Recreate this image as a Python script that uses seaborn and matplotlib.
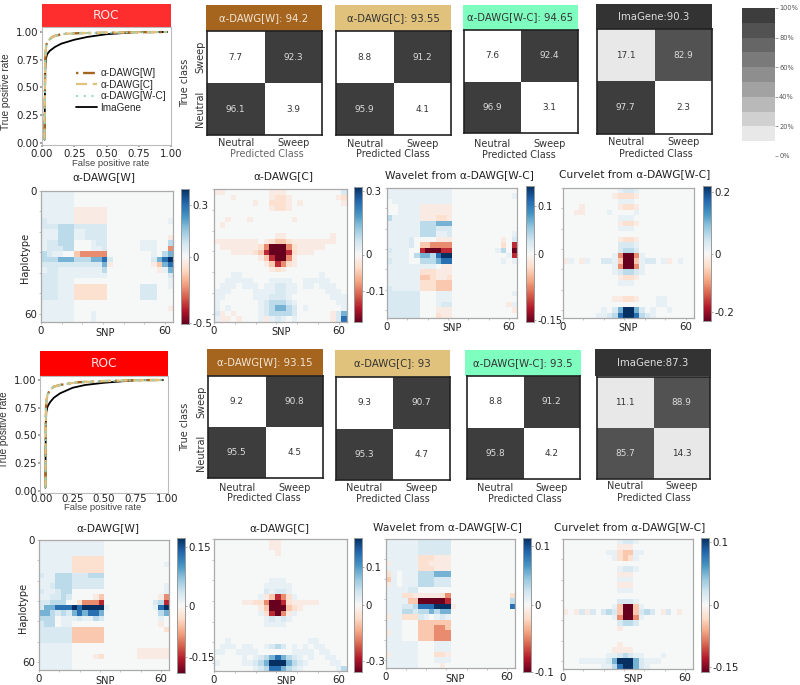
import numpy as np
import matplotlib
matplotlib.use("Agg")
import matplotlib.pyplot as plt
from matplotlib.colors import ListedColormap, TwoSlopeNorm
import seaborn as sns

# ---------- ROC data ----------
FPR_DAWG_A = [0.02, 0.022, 0.025, 0.03, 0.035, 0.05, 0.08, 0.10, 0.15, 0.20, 0.30, 0.50, 0.75, 0.97]
TPR_DAWG_A = [0.03, 0.40, 0.75, 0.85, 0.89, 0.925, 0.955, 0.965, 0.98, 0.985, 0.99, 0.993, 0.998, 1.0]
FPR_IMG_A = [0.02, 0.022, 0.025, 0.03, 0.04, 0.06, 0.10, 0.15, 0.25, 0.35, 0.50, 0.75, 0.97]
TPR_IMG_A = [0.03, 0.35, 0.65, 0.76, 0.80, 0.83, 0.865, 0.895, 0.93, 0.955, 0.98, 1.0, 1.0]
FPR_DAWG_B = [0.033, 0.035, 0.037, 0.04, 0.05, 0.07, 0.10, 0.15, 0.20, 0.30, 0.50, 0.75, 0.97]
TPR_DAWG_B = [0.03, 0.45, 0.72, 0.80, 0.87, 0.91, 0.94, 0.955, 0.965, 0.98, 0.99, 0.998, 1.0]
FPR_IMG_B = [0.033, 0.035, 0.037, 0.04, 0.05, 0.07, 0.10, 0.15, 0.25, 0.35, 0.50, 0.75, 0.97]
TPR_IMG_B = [0.03, 0.40, 0.62, 0.71, 0.76, 0.80, 0.84, 0.88, 0.93, 0.955, 0.975, 0.998, 1.0]
ROC_SERIES = ["α-DAWG[W]", "α-DAWG[C]", "α-DAWG[W-C]", "ImaGene"]

# ---------- confusion matrices ----------
CM_NAMES_A = ["α-DAWG[W]: 94.2", "α-DAWG[C]: 93.55", "α-DAWG[W-C]: 94.65", "ImaGene:90.3"]
CM_NAMES_B = ["α-DAWG[W]: 93.15", "α-DAWG[C]: 93", "α-DAWG[W-C]: 93.5", "ImaGene:87.3"]
CM_A = [[[7.7, 92.3], [96.1, 3.9]], [[8.8, 91.2], [95.9, 4.1]],
        [[7.6, 92.4], [96.9, 3.1]], [[17.1, 82.9], [97.7, 2.3]]]
CM_B = [[[9.2, 90.8], [95.5, 4.5]], [[9.3, 90.7], [95.3, 4.7]],
        [[8.8, 91.2], [95.8, 4.2]], [[11.1, 88.9], [85.7, 14.3]]]
PCT_LEVELS = [95, 85, 75, 65, 55, 45, 35, 25, 15, 5]
PCT_LABELS = ["100%", "80%", "60%", "40%", "20%", "0%"]
GREYS = ["#ffffff", "#e8e8e8", "#d0d0d0", "#b9b9b9", "#a2a2a2", "#8e8e8e", "#7a7a7a", "#666666", "#525252", "#3d3d3d"]

# ---------- saliency maps: 24 x 24 read-off cells ----------
# '.' = zero, a-f = blue rising to the colour bar top, A-F = red rising to its bottom
H1 = ["aaaaaa ...... ...... ......", "aaaaaa ...... ...... ......", "aaaaaa ...... ...... ......",
      "aaaaaa AAAAAA ...... ......", "aaaaaa AAAAAA ...... ......", "baaaaa AAAAAA ...... .....a",
      "bbbccc bbbbbb ...... ......", "aaaccc aabbbb ...... ......", "aaaccc aabbbb ...... .....A",
      "abbccc ...abb ...... aaa..c", "abbbcc ...aab ...... aaa..D", "cbaa.. CDDDDD ...... ..a.cd",
      "cccddd cccdde b..... ..bdef", "bbbbbb bbbbbd A..... ..ACde", "abbaaa aaaaac ...... ...Aad",
      "bbbaaa aaaaaa ...... .....b", "bbbaaa ...... ...... .....a", "bbbaaa BBBBBB ...... bbb..a",
      "bbbaaa BBBBBB ...... bbb...", "bbbaaa BBBBBB ...... bbb...", "aaaaaa ...... ...... ......",
      "aaaaaa ...... ...... .....A", "aaaaaa ...a.. ...... ......", "aaaaaa ...a.. ...... ......"]
H2 = ["AA.... ....AA A..... .....b", "...A.. ....AB BA.... ....AB", "...... .A..BB BA.A.. .....A",
      "...... ....AB BA.... ......", "...... ...... ...... ......", "..A... A..... ..A... ......",
      ".A.... ...... ...... ......", "...... ...... ...... ......", "...... .....A A..... ...A..",
      "AAAAAA AA.ABC CBAAAA AAAA..", ".AAAAA AABDFF FDBAAA AA....", "...AAA ABCEFF FEBAAA ......",
      "...... ..ACEF FDA... ......", "...... ...ACE DBA... ......", "...... ....AB A..... ......",
      "...aa. ...... ...... .a....", "..aaaa a...aa aa..aa aaa...", ".aaa.a aa.aab baa.aa .aaa..",
      "aaa... .aaaab baa... ..aaa.", "aa.... .aaabb ba.... ...aaa", "a..... ..abcc cba... ....aa",
      "a.a... ..abcd dcb.a. .....a", "bA.A.. ..abcc ccb... ...Abd", "aAA.A. ..aAab a.a... ...Abe"]
H3 = ["aaaaaa aaaaaa ...... ......", "aaaaaa aaaaaa ...... .....a", ".aaaaa aaaaaa ...... ......",
      "..aaaa AAAAAA ...... ......", "..aaaa AAAAAA ...... ......", "caaaaa AAABBA ...... ......",
      "aaaaaa cccddd ...... ......", "aaaaaa cccbbb ...... ......", "aaaaaa cccaab ...... .....a",
      "aaaab. ...AAA ...... ...A.b", "aaaab. CCDDDD ...... ...B.E", "baaa.. EFFFEE ...... ..ac.F",
      "aaaa.c ddceff ...... ....aE", "baaa.. cccdee ...... ...a.a", "aaaaaa aaa.AA ...... ......",
      "aaaaaa BBBAAA ...... ......", "aaaaaa CCBAAB ...... ......", "aaaaaa BBBCCC ...... ......",
      "baaaaa BBBCCC ...... ......", "bbbbbb ...aaa ...... .....a", "bbbbbb ...aaa ...... ......",
      "bbbbbb ...abb ...... ....Aa", "bbbbbb ...AAA ...... .....A", "bbbbbb ...BAA ...... ......"]
H4 = ["...... ....ab ba.... ......", "...... ...ABB BA.... ......", "...... ....aa a..... ......",
      "...A.. ....AB BA.... ......", "..AA.. ..a... .a.... ......", "...... ....aa a..... ......",
      "...... ....AB BA.... ......", "...... ....aa a..... ......", "...... ...... ...... ......",
      "...... ....AB BA.... ......", "...... ....bb ba.... ......", "...... ....bc cb.... ......",
      "...... ...aDF FDa... ......", "Aa.Aa. .bbaCF FCabb. aA.a..", "...... ...aDF FDa... ......",
      "...... ...abc cba... ......", "...... ....AB BA.... ......", "...... ....aa a..... ......",
      "...... ...... ...... ......", "...... ...... ...... ......", "...... ...AAB BA...a a.....",
      "...... ...... .....a a.....", "...... .a.bdf fdb.a. .a....", "...... aabcef fecba. ......"]
H5 = ["aaaaaa aaaaaa ...... ......", "aaaaaa aaaaaa ...... ......", "aaaaaa aaaaaa ...... ......",
      "aaaaaa BBBBBB ...... ......", "aaaaaa BBBBBB ...... .....a", "aaaaaa BBBBBB ...... ......",
      "baaccc bbbccc ...... ......", "aaaccc bbbbbb ...... ......", "aabccc bbbbbb ...... .....a",
      "baabcc ...... ...... .....a", "aabbcb ....AC ...... ....AD", "bbccc. .BDDDE ...... ...bcE",
      "bddeee feffff a..... ...aef", "ddcbcb dedeed ...... ....cd", "ccc.aa abaacb ...... ....a.",
      "bcc.aa ...... ...... ....A.", "bbbbbb CCCCCC ...... .....B", "bbbbbb CCCCCC ...... ......",
      "bbbbbb CCCCCC ...... ......", "aaaaaa ...... ...... ......", "aaaaaa ...... ...... AAAAAA",
      "aaaaaa ....AB ...... AAAAAA", "aaaaaa ...... ...... ......", "aaaaaa ...... ...... ......"]
H6 = ["...... ....AA ...... ......", "...... ....AA ...... ......", "...... .....A ...... ......",
      "...... ...... ...... ......", "...... ...... ...... ......", "...... ...... ...... ......",
      "...... ...... ...... ......", "...... ....aa a..... ......", "...... ...aaa aa.... ......",
      "...... ...bab ba.... ......", "...... ..aACE DBa... ......", ".....A ABBDFF EBAAAA A.....",
      "...... ..ACFF FCBA.. ......", "...... ..aBEF DAa... ......", "...... ...aba ba.... ......",
      "...... ...aaa a..... ......", "...... ...... ...... ......", "...... ...... ...... ......",
      "..a... ...... .....a a.....", ".aaa.a a..abc b.a.a. aa....", "aa..aa aa.... ..aaaa .aa...",
      ".....a .abcde dcba.a ..aa..", "a....a abcdff fdcba. ...aa.", "...... .abcee dcba.. ....ac"]
H7 = ["aaaaaa bbbbbb ...... ......", "aaaaaa bbbbbb ...... ......", "aaaaaa bbbbbb ...... ......",
      "aaaaaa BBBAAA ...... ......", "Aaaaaa BBAAAA ...... ......", "aaaaaa BBBAAA ...... ......",
      "Ba.aaa cccddd ...... ......", "Ca.aaa cccbbb ...... ......", "Aa.aaa cccbbb ...... ......",
      "aaaabb ...... ...... ......", "aaaBBA AAAABD ...... .....B", "aaaaCC FFFFFE ...... .....c",
      "aaabbc eeefff A..... .....e", "aaaccb ccdcdd ...... ......", "AaaBBB ba.aba ...... ......",
      "aaa... CCCCCC ...... ......", "aaa... CCCDDC ...... ......", "Aaa... CCCDDD ...... ......",
      "aaa... CCCDDD ...... ......", "aaaaaa ...aaa ...... ......", "aaaaaa ...aaa ...... ......",
      "Aaaaaa ...BBA ...... ......", "aaaaaa ...aaa ...... ......", "aaaaaa ....A. ...... ......"]
H8 = ["...... ....ab ba.... ......", "...... ....AA A..... ......", "...... ..aaBC Caa... ......",
      "...... ...aBC Ba.... ......", "...... ...... ...... ......", "...... ....ab ba.... ......",
      "...... ....AA A..... ......", "...... ....aa a..... ......", "...... ....AA A..... ......",
      "...... ....aa a..... ......", "...... ...... ...... ......", "...... ....bb ba.... ......",
      "...... ...aCF FCa... ......", "A.AbAb .bcbCF FCbcb. Ab.A..", "...... ...aDF FDa... ......",
      "...... ....bc cb.... ......", "...... ....A. ...... ......", "...... ...... ...... ......",
      "...... ...... ...... ......", "...... ....A. ...... ......", "...... ...AAA A..... ......",
      "...... ..aabc baa... a.....", "...aaa aabdff fdbaaa ......", "...... .aacef fdba.. ......"]
H_GRIDS = [H1, H2, H3, H4, H5, H6, H7, H8]
H_TITLES = ["α-DAWG[W]", "α-DAWG[C]", "Wavelet from α-DAWG[W-C]", "Curvelet from α-DAWG[W-C]"] * 2
H_VMIN = [-0.507, -0.187, -0.154, -0.23, -0.196, -0.36, -0.10, -0.162]
H_VMAX = [0.39, 0.318, 0.141, 0.22, 0.172, 0.176, 0.114, 0.106]
H_TICKS = [[0.3, 0, -0.5], [0.3, 0, -0.1], [0.1, 0, -0.15], [0.2, 0, -0.2],
           [0.15, 0, -0.15], [0.1, 0, -0.3], [0.1, 0, -0.1], [0.1, 0, -0.15]]
SNP_TICKS = [0, 10, 20, 30, 40, 50, 60]

# ---------- layout in reference pixels ----------
W, H = 800, 685
LEVEL = {".": 0, "a": .08, "b": .16, "c": .27, "d": .47, "e": .75, "f": 1.0}
C_W, C_C, C_WC, C_IMG = "#A5651F", "#E0C27C", "#7FFFBF", "#333333"
ROC_BOX = [(42, 27, 171, 145), (40, 376, 168, 493)]
ROC_HEAD = [(42, 4, 171, 27), (40, 351, 168, 376)]
ROC_HEADC = ["#FF2E2E", "#FF0000"]
ROC_YLIM = [(-0.018, 1.045), (-0.018, 1.036)]
ROC_XLIM = [(0, 1), (-0.01, 1.01)]
ROC_XLAB = [(111, 163), (103, 508)]
ROC_YLAB = [(6, 92), (4, 430)]
ROC_PAD = [1.5, -0.5]
CM_BOX = [(207, 31, 322, 135), (336, 31, 451, 135), (464, 30, 578, 133), (597, 29, 712, 134),
          (208, 376, 323, 478), (336, 377, 450, 480), (467, 376, 580, 479), (597, 377, 710, 479)]
CM_HEAD = [(206, 5, 322, 31), (335, 5, 451, 31), (463, 5, 578, 30), (596, 4, 712, 29),
           (207, 349, 323, 376), (335, 350, 450, 377), (465, 350, 581, 376), (595, 349, 711, 376)]
CM_PLAB = [(267, 154), (393, 154), (519, 155), (656, 154), (264, 498), (393, 499), (525, 499), (654, 498)]
CM_TICKY = [142, 143, 143, 141, 487, 487, 487, 485]
HM_BOX = [(41, 191, 173, 322), (214, 189, 347, 322), (387, 188, 517, 318), (563, 188, 694, 318),
          (39, 540, 169, 670), (214, 539, 347, 671), (386, 539, 515, 668), (563, 539, 693, 669)]
HM_CBAR = [(181, 189, 189, 324), (354, 187, 362, 322), (526, 186, 534, 322), (703, 186, 711, 321),
           (177, 538, 185, 673), (354, 538, 362, 672), (523, 538, 531, 672), (701, 538, 709, 672)]
HM_TITLE = [(104, 177), (283, 176), (459, 175), (635, 174), (108, 528), (279, 528), (447, 527), (630, 527)]
HM_SNP = [(105, 333), (281, 332), (452, 328), (628, 328), (105, 681), (286, 681), (455, 679), (633, 679)]
HM_HAP = {0: (25, 258), 4: (23, 608)}

sns.set_theme(style="white")
plt.rcParams["font.family"] = ["DejaVu Sans"]
fig = plt.figure(figsize=(W / 100, H / 100), dpi=100)


def box_ax(b):
    x0, y0, x1, y1 = b
    return fig.add_axes([x0 / W, 1 - y1 / H, (x1 - x0) / W, (y1 - y0) / H])


def fx(b, px):
    return (px - b[0]) / (b[2] - b[0])


def fy(b, py):
    return (b[3] - py) / (b[3] - b[1])


def header(b, color, text, tcolor, size):
    ax = box_ax(b)
    ax.set_facecolor(color)
    ax.set_xticks([])
    ax.set_yticks([])
    for s in ax.spines.values():
        s.set_visible(False)
    ax.text(0.5, 0.5, text, color=tcolor, fontsize=size, ha="center", va="center", transform=ax.transAxes)


def roc_panel(i, fd, td, fi, ti):
    header(ROC_HEAD[i], ROC_HEADC[i], "ROC", "#FFE6E6", 8.8)
    b = ROC_BOX[i]
    ax = box_ax(b)
    styles = [(C_W, (0, (1, 2, 5, 2)), 1.7), ("#E0C27C", (0, (5, 2.5)), 1.6), ("#8FD3C0", (0, (1, 3)), 1.4)]
    for name, (c, ls, lw) in zip(ROC_SERIES[:3], styles):
        sns.lineplot(x=fd, y=td, ax=ax, color=c, linestyle=ls, linewidth=lw, label=name,
                     estimator=None, sort=False, errorbar=None, zorder=3)
    sns.lineplot(x=fi, y=ti, ax=ax, color="black", linewidth=1.3, label=ROC_SERIES[3],
                 estimator=None, sort=False, errorbar=None, zorder=2)
    ax.set_xlim(*ROC_XLIM[i])
    ax.set_ylim(*ROC_YLIM[i])
    ticks = [0, .25, .5, .75, 1]
    ax.set_xticks(ticks, ["0.00", "0.25", "0.50", "0.75", "1.00"])
    ax.set_yticks(ticks, ["0.00", "0.25", "0.50", "0.75", "1.00"])
    ax.tick_params(axis="x", labelsize=7.4, pad=ROC_PAD[i], length=1.5, color="#999999", colors="#222222", bottom=True)
    ax.tick_params(axis="y", labelsize=7.4, pad=0.8, length=1.5, color="#999999", colors="#222222", left=True)
    for s in ax.spines.values():
        s.set_color("#bbbbbb")
        s.set_linewidth(0.8)
    ax.set_xlabel("False positive rate", fontsize=6.8, family="Liberation Sans", color="#444444", va="center")
    ax.xaxis.set_label_coords(fx(b, ROC_XLAB[i][0]), fy(b, ROC_XLAB[i][1]))
    ax.set_ylabel("True positive rate", fontsize=7.2, family="Liberation Sans", color="#333333", va="center")
    ax.yaxis.set_label_coords(fx(b, ROC_YLAB[i][0]), fy(b, ROC_YLAB[i][1]))
    if i == 0:
        ax.legend(frameon=False, loc="upper left", bbox_to_anchor=(fx(b, 76), fy(b, 68)), borderaxespad=0,
                  borderpad=0, labelspacing=0.16, handlelength=2.1, handletextpad=0.35,
                  prop={"family": "Liberation Sans", "size": 7.2})
    else:
        ax.get_legend().remove()


cm_cmap = ListedColormap(GREYS)
for k, (vals, name) in enumerate(zip(CM_A + CM_B, CM_NAMES_A + CM_NAMES_B)):
    hc = [C_W, C_C, C_WC, C_IMG][k % 4]
    tc = ["#F2E6D6", "#333333", "#333333", "#DDDDDD"][k % 4]
    header(CM_HEAD[k], hc, name, tc, 7.3)
    b = CM_BOX[k]
    ax = box_ax(b)
    sns.heatmap(np.array(vals), ax=ax, cmap=cm_cmap, vmin=0, vmax=100, cbar=False, annot=True, fmt=".1f",
                annot_kws={"size": 6.4}, xticklabels=["Neutral", "Sweep"], yticklabels=["Sweep", "Neutral"])
    for t in ax.texts:
        t.set_color("#DDDDDD" if float(t.get_text()) > 50 else "#333333")
    for s in ax.spines.values():
        s.set_visible(True)
        s.set_color("#222222")
        s.set_linewidth(1.2)
    ax.tick_params(axis="x", length=0, labelsize=7, pad=(CM_TICKY[k] - b[3] - 4) * .72, colors="#333333", rotation=0)
    ax.set_xlabel("Predicted Class", fontsize=6.9, color="#666666" if k == 0 else "#333333", va="center")
    ax.xaxis.set_label_coords(fx(b, CM_PLAB[k][0]), fy(b, CM_PLAB[k][1]))
    if k % 4 == 0:
        ax.tick_params(axis="y", length=0, labelsize=7, pad=1.5, colors="#333333")
        for t in ax.get_yticklabels():
            t.set_rotation(90)
            t.set_va("center")
        ax.set_ylabel("True class", fontsize=7, color="#333333", va="center")
        ax.yaxis.set_label_coords(fx(b, 185), fy(b, (b[1] + b[3]) / 2))
    else:
        ax.set_yticks([])

roc_panel(0, FPR_DAWG_A, TPR_DAWG_A, FPR_IMG_A, TPR_IMG_A)
roc_panel(1, FPR_DAWG_B, TPR_DAWG_B, FPR_IMG_B, TPR_IMG_B)

# shared percentage scale
ax = box_ax((742, 8, 775, 156))
sns.heatmap(np.array(PCT_LEVELS)[:, None], ax=ax, cmap=cm_cmap, vmin=0, vmax=100, cbar=False,
            xticklabels=False, yticklabels=False)
ax.yaxis.tick_right()
ax.set_yticks([0, 2, 4, 6, 8, 10], PCT_LABELS, rotation=0)
ax.tick_params(axis="y", right=True, left=False, labelsize=4.8, length=2, width=0.5, pad=1, color="#777777", colors="#555555")

# saliency maps
for k, grid in enumerate(H_GRIDS):
    vmin, vmax = H_VMIN[k], H_VMAX[k]
    rows = [g.replace(" ", "") for g in grid]
    data = np.array([[LEVEL[c] * vmax if c in LEVEL else LEVEL[c.lower()] * vmin for c in r] for r in rows])
    b = HM_BOX[k]
    ax = box_ax(b)
    cax = box_ax(HM_CBAR[k])
    sns.heatmap(data, ax=ax, cmap="RdBu", norm=TwoSlopeNorm(vcenter=0, vmin=vmin, vmax=vmax), cbar=True,
                cbar_ax=cax, cbar_kws={"spacing": "proportional", "ticks": H_TICKS[k]},
                xticklabels=False, yticklabels=False)
    cax.set_yticks(H_TICKS[k], [f"{t:g}" for t in H_TICKS[k]])
    cax.minorticks_off()
    cax.tick_params(labelsize=7.0 if k == 2 else 7.4, length=1.5, width=0.5, pad=0.8 if k == 2 else 1.2,
                    color="#888888", colors="#222222")
    for s in cax.spines.values():
        s.set_visible(True)
        s.set_color("#999999")
        s.set_linewidth(0.6)
    cells = len(rows)
    pos = [t * cells / 64 for t in SNP_TICKS]
    labs = ["0", "", "", "", "", "", "60"]
    ax.set_xticks(pos, labs, rotation=0)
    ax.set_yticks(pos, labs if k in HM_HAP else [""] * 7, rotation=0)
    ax.tick_params(axis="both", labelsize=7.4, length=1.5, width=0.5, pad=1.5, color="#aaaaaa", colors="#222222",
                   bottom=True, left=True)
    ax.tick_params(axis="x", pad=1.2)
    for s in ax.spines.values():
        s.set_visible(True)
        s.set_color("#aaaaaa")
        s.set_linewidth(0.9)
    ax.set_title(H_TITLES[k], fontsize=7.7, color="#222222", va="center",
                 x=fx(b, HM_TITLE[k][0]), y=fy(b, HM_TITLE[k][1]), pad=0)
    ax.set_xlabel("SNP", fontsize=7, color="#222222", va="center")
    ax.xaxis.set_label_coords(fx(b, HM_SNP[k][0]), fy(b, HM_SNP[k][1]))
    if k in HM_HAP:
        ax.set_ylabel("Haplotype", fontsize=7, color="#222222", va="center")
        ax.yaxis.set_label_coords(fx(b, HM_HAP[k][0]), fy(b, HM_HAP[k][1]))

fig.savefig("out.png", dpi=100)
